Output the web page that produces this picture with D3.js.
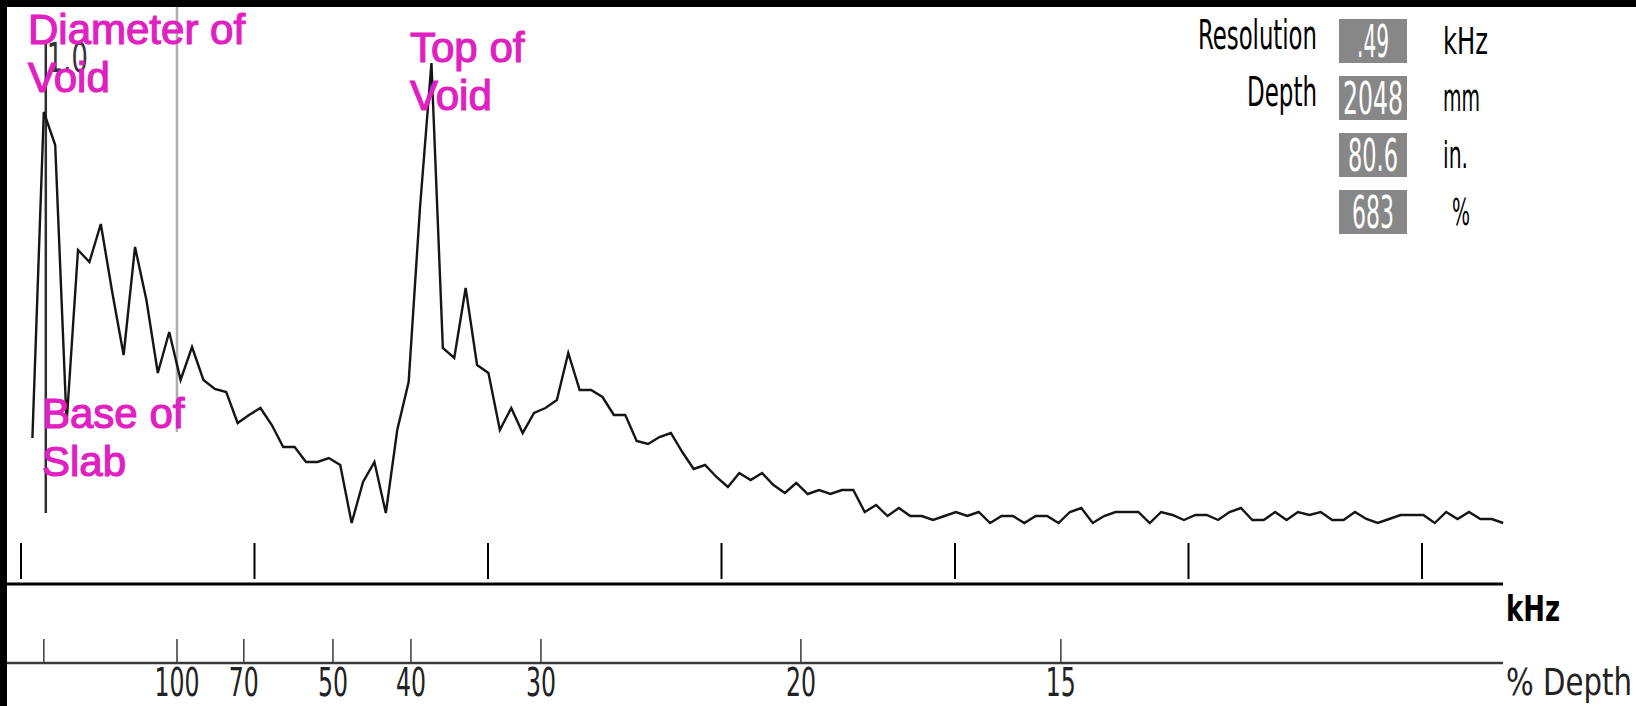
<!DOCTYPE html>
<html lang="en">
<head>
  <meta charset="UTF-8">
  <title>Impact-echo spectrum</title>
  <style>
    body { margin: 0; background: #fff; }
    svg { display: block; }
  </style>
</head>
<body>
  <svg id="svg" width="1636" height="706"></svg>
  <script src="https://d3js.org/d3.v7.min.js"></script>
  <script>
    // amplitude spectrum, one value per frequency bin (bin 1 .. 130)
    const resolution = 0.48828   // kHz per bin
    const amplitude = [
      19.4, 84.6, 78, 22.4, 57, 54.6, 62.2, 48.6, 36, 57.6,
      47, 32.4, 40.6, 31, 37.6, 31, 29.2, 28.6, 22.4, 24,
      25.4, 22, 17.6, 17.6, 14.6, 14.6, 15.4, 14, 2.4, 10.6,
      14.6, 4.4, 21, 30.6, 65.6, 94.4, 37.4, 35.4, 49.4, 34,
      32.4, 21, 25.4, 20.4, 24.4, 25.4, 27, 36.4, 29, 29,
      27.6, 24, 24, 18.8, 18.2, 19.6, 20.4, 16.6, 13.2, 14,
      11.6, 9.6, 12.4, 11, 12.4, 10, 8.4, 10.4, 8.2, 9,
      8.2, 9, 9, 4.6, 6, 3.8, 5.4, 3.8, 3.8, 3,
      3.8, 4.6, 3.8, 4.6, 2.4, 3.8, 3.8, 2.4, 3.8, 3.8,
      2.4, 4.6, 5.4, 2.4, 3.8, 4.6, 4.6, 4.6, 2.4, 4.6,
      4, 3, 4, 4, 3, 4.6, 5.4, 3, 3, 4.6,
      3, 4.6, 4, 4.6, 3, 3, 4.6, 3.2, 2.4, 3.2,
      4, 4, 4, 2.4, 4.6, 3.2, 4.6, 3.2, 3.2, 2.4
    ]
    const khzTicks = [0, 10, 20, 30, 40, 50, 60]
    const depthTicks = [683, 100, 70, 50, 40, 30, 20, 15]
    const depthLabels = ['', '100', '70', '50', '40', '30', '20', '15']
    const fullDepthFreq = 6.68          // kHz that corresponds to 100 % depth
    const cursorBin = 2
    const cursorLabel = '1.0'
    const infoLabels = ['Resolution', 'Depth', '', '']
    const infoValues = ['.49', '2048', '80.6', '683']
    const infoUnits = ['kHz', 'mm', 'in.', '%']
    const noteTop = ['Diameter of', 'Void']
    const notePeak = ['Top of', 'Void']
    const noteBase = ['Base of', 'Slab']

    const data = amplitude.map((a, i) => ({ f: (i + 1) * resolution, a: a }))

    const svg = d3.select('#svg')
    const narrowFont = '"DejaVu Sans Condensed", "Liberation Sans Narrow", "Liberation Sans", sans-serif'

    const x = d3.scaleLinear().domain([0, 60]).range([21, 1422])
    const y = d3.scaleLinear().domain([0, 100]).range([535, 35])
    const depthX = d => x(fullDepthFreq * 100 / d)

    // narrow text: squeeze horizontally to a given width
    function narrowText(str, px, py, w, size, opts) {
      opts = opts || {}
      const t = svg.append('text')
        .attr('x', 0).attr('y', 0)
        .attr('font-family', narrowFont)
        .attr('font-size', size)
        .attr('font-weight', opts.weight || 'normal')
        .attr('text-anchor', opts.anchor || 'start')
        .attr('fill', opts.fill || '#000')
        .text(str)
      const len = t.node().getComputedTextLength() || w
      t.attr('transform', `translate(${px},${py}) scale(${w / len},1)`)
      return t
    }

    // frame
    svg.append('rect').attr('width', 1636).attr('height', 706).attr('fill', '#fff')
    svg.append('rect').attr('width', 1636).attr('height', 7).attr('fill', '#000')
    svg.append('rect').attr('width', 7).attr('height', 706).attr('fill', '#000')

    // 100 % depth marker
    svg.append('line')
      .attr('x1', depthX(100)).attr('x2', depthX(100))
      .attr('y1', 7).attr('y2', 432)
      .attr('stroke', '#b0b0b0').attr('stroke-width', 2.5)

    // cursor
    const cx = x(cursorBin * resolution)
    narrowText(cursorLabel, cx + 3, 72, 41, 40, { fill: '#333' })
    svg.append('line')
      .attr('x1', cx + 2).attr('x2', cx + 2)
      .attr('y1', 44).attr('y2', 513)
      .attr('stroke', '#2e2e2e').attr('stroke-width', 2.5)

    // spectrum
    const line = d3.line().x(d => x(d.f)).y(d => y(d.a))
    svg.append('path')
      .datum(data)
      .attr('d', line)
      .attr('fill', 'none')
      .attr('stroke', '#151515')
      .attr('stroke-width', 2.4)
      .attr('stroke-linejoin', 'miter')

    // kHz axis
    svg.append('line')
      .attr('x1', 7).attr('x2', 1503)
      .attr('y1', 584).attr('y2', 584)
      .attr('stroke', '#000').attr('stroke-width', 3)
    svg.selectAll('.ktick')
      .data(khzTicks)
      .enter()
      .append('line')
      .attr('x1', d => x(d)).attr('x2', d => x(d))
      .attr('y1', 543).attr('y2', 579)
      .attr('stroke', '#000').attr('stroke-width', 2)
    narrowText('kHz', 1506, 621, 54, 36, { weight: 'bold' })

    // % depth axis
    svg.append('line')
      .attr('x1', 7).attr('x2', 1503)
      .attr('y1', 663).attr('y2', 663)
      .attr('stroke', '#3a3a3a').attr('stroke-width', 2.5)
    svg.selectAll('.dtick')
      .data(depthTicks)
      .enter()
      .append('line')
      .attr('x1', d => depthX(d)).attr('x2', d => depthX(d))
      .attr('y1', 639).attr('y2', 663)
      .attr('stroke', '#3a3a3a').attr('stroke-width', 1.5)
    depthTicks.forEach((d, i) => {
      if (depthLabels[i] === '') return
      narrowText(depthLabels[i], depthX(d), 696, depthLabels[i].length * 15, 39, { anchor: 'middle', fill: '#222' })
    })
    narrowText('% Depth', 1506, 695, 126, 37, { fill: '#222' })

    // info panel
    const labelWidth = { 'Resolution': 119, 'Depth': 70 }
    const valueWidth = { '.49': 32, '2048': 60, '80.6': 50, '683': 42 }
    const unitWidth = { 'kHz': 45, 'mm': 37, 'in.': 25, '%': 18 }

    infoValues.forEach((v, i) => {
      const top = 19 + 57 * i
      svg.append('rect')
        .attr('x', 1339).attr('y', top)
        .attr('width', 68).attr('height', 44)
        .attr('fill', '#878787')
      narrowText(v, 1373, top + 38, valueWidth[v], 44, { anchor: 'middle', fill: '#fff' })
      if (infoLabels[i] !== '') {
        narrowText(infoLabels[i], 1317, top + 30, labelWidth[infoLabels[i]], 40, { anchor: 'end' })
      }
      const u = infoUnits[i]
      narrowText(u, u === '%' ? 1452 : 1443, top + 35, unitWidth[u], 38)
    })

    // annotations
    const note = (lines, x0, y0) => {
      const t = svg.append('text')
        .attr('font-family', '"Liberation Sans", Arial, sans-serif')
        .attr('font-size', 42)
        .attr('fill', '#e020c0')
        .attr('stroke', '#e020c0')
        .attr('stroke-width', 1.2)
      lines.forEach((s, i) => {
        t.append('tspan').attr('x', x0).attr('y', y0 + i * 48).text(s)
      })
    }
    note(noteTop, 28, 44)
    note(notePeak, 410, 62)
    note(noteBase, 42, 428)
  </script>
</body>
</html>
